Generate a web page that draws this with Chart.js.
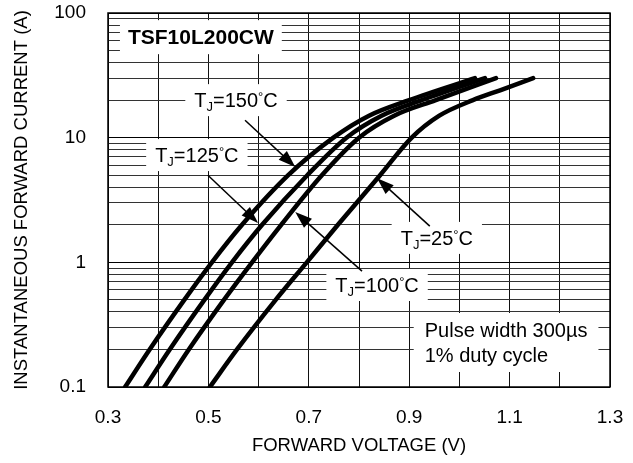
<!DOCTYPE html>
<html lang="en">
<head>
<meta charset="UTF-8">
<title>TSF10L200CW Forward Characteristics</title>
<script src="https://cdn.jsdelivr.net/npm/chart.js"></script>
<style>
  body { margin: 0; background: #fff; }
  .wrap { width: 633px; height: 463px; }
</style>
</head>
<body>
<div class="wrap"><canvas id="fwdChart" width="633" height="463"></canvas></div>
<script>
// axis ticks
const xTickLabels = ['0.3', '0.5', '0.7', '0.9', '1.1', '1.3'];
const yTickLabels = ['0.1', '1', '10', '100'];

// forward voltage (V) / current (A)
const v150 = [0.334, 0.383, 0.452, 0.507, 0.567, 0.659, 0.749, 0.820, 0.900, 1.031];
const i150 = [0.1, 0.2, 0.5, 1, 2, 5, 10, 15, 20, 30];
const v125 = [0.374, 0.423, 0.492, 0.547, 0.607, 0.697, 0.775, 0.845, 0.925, 1.051];
const i125 = [0.1, 0.2, 0.5, 1, 2, 5, 10, 15, 20, 30];
const v100 = [0.412, 0.461, 0.531, 0.587, 0.645, 0.726, 0.800, 0.870, 0.953, 1.073];
const i100 = [0.1, 0.2, 0.5, 1, 2, 5, 10, 15, 20, 30];
const v25 = [0.503, 0.557, 0.634, 0.696, 0.758, 0.842, 0.905, 0.960, 1.027, 1.081, 1.147];
const i25 = [0.1, 0.2, 0.5, 1, 2, 5, 10, 15, 20, 24, 30];

// temperature call-outs: label centre, arrow start, arrow tip (data units)
const tempNames = ['150', '125', '100', '25'];
const tagX = [0.555, 0.477, 0.836, 0.955];
const tagY = [20, 7.25, 0.658, 1.57];
const arrowFromX = [0.573, 0.499, 0.806, 0.941];
const arrowFromY = [13.8, 5.0, 0.851, 1.95];
const arrowToX = [0.673, 0.599, 0.673, 0.836];
const arrowToY = [5.83, 2.07, 2.53, 4.73];

const partNo = 'TSF10L200CW';
const noteLines = ['Pulse width 300\u00b5s', '1% duty cycle'];

const FONT = '"Liberation Sans", Arial, sans-serif';

function pts(vs, is) {
  return vs.map((v, k) => ({ x: v, y: is[k] }));
}

function curve(vs, is) {
  return {
    data: pts(vs, is),
    borderColor: '#000',
    borderWidth: 4.5,
    borderCapStyle: 'round',
    borderJoinStyle: 'round',
    pointRadius: 0,
    cubicInterpolationMode: 'monotone',
    clip: 0
  };
}

// white box with text, parts = [{s, size, dy, bold}]
function tag(ctx, parts, cx, cy, padX, h) {
  let w = 0;
  parts.forEach(p => {
    ctx.font = (p.bold ? 'bold ' : '') + p.size + 'px ' + FONT;
    p.w = ctx.measureText(p.s).width;
    w += p.w;
  });
  ctx.fillStyle = '#fff';
  ctx.fillRect(cx - w / 2 - padX, cy - h / 2, w + padX * 2, h);
  ctx.fillStyle = '#000';
  ctx.textBaseline = 'alphabetic';
  ctx.textAlign = 'left';
  let x = cx - w / 2;
  const base = cy + 7.2;
  parts.forEach(p => {
    ctx.font = (p.bold ? 'bold ' : '') + p.size + 'px ' + FONT;
    ctx.fillText(p.s, x, base + (p.dy || 0));
    x += p.w;
  });
}

function arrow(ctx, x0, y0, x1, y1) {
  const a = Math.atan2(y1 - y0, x1 - x0);
  const L = 17, W = 6;
  ctx.strokeStyle = '#000';
  ctx.lineWidth = 1.5;
  ctx.beginPath();
  ctx.moveTo(x0, y0);
  ctx.lineTo(x1 - Math.cos(a) * L * 0.8, y1 - Math.sin(a) * L * 0.8);
  ctx.stroke();
  ctx.fillStyle = '#000';
  ctx.beginPath();
  ctx.moveTo(x1, y1);
  ctx.lineTo(x1 - Math.cos(a) * L - Math.sin(a) * W, y1 - Math.sin(a) * L + Math.cos(a) * W);
  ctx.lineTo(x1 - Math.cos(a) * L + Math.sin(a) * W, y1 - Math.sin(a) * L - Math.cos(a) * W);
  ctx.closePath();
  ctx.fill();
}

const notes = {
  id: 'notes',
  afterDatasetsDraw(chart) {
    const ctx = chart.ctx;
    const xs = chart.scales.x, ys = chart.scales.y;
    const a = chart.chartArea;
    ctx.save();

    // frame
    ctx.strokeStyle = '#000';
    ctx.lineWidth = 1.5;
    ctx.strokeRect(a.left, a.top, a.right - a.left, a.bottom - a.top);

    // part number
    tag(ctx, [{ s: partNo, size: 21, bold: true }], xs.getPixelForValue(0.485), ys.getPixelForValue(64), 8, 34);

    // temperature labels + arrows
    tempNames.forEach((t, k) => {
      const parts = [
        { s: 'T', size: 20 },
        { s: 'J', size: 13, dy: 4 },
        { s: '=' + t, size: 20 },
        { s: '\u00b0', size: 13, dy: -6 },
        { s: 'C', size: 20 }
      ];
      tag(ctx, parts, xs.getPixelForValue(tagX[k]), ys.getPixelForValue(tagY[k]), 9, 32);
      arrow(ctx, xs.getPixelForValue(arrowFromX[k]), ys.getPixelForValue(arrowFromY[k]),
            xs.getPixelForValue(arrowToX[k]), ys.getPixelForValue(arrowToY[k]));
    });

    // pulse note
    ctx.font = '20px ' + FONT;
    const wMax = Math.max(...noteLines.map(s => ctx.measureText(s).width));
    const cx = xs.getPixelForValue(1.093), cy = ys.getPixelForValue(0.2275);
    ctx.fillStyle = '#fff';
    ctx.fillRect(cx - wMax / 2 - 11, cy - 29.5, wMax + 22, 59);
    ctx.fillStyle = '#000';
    ctx.textAlign = 'left';
    ctx.textBaseline = 'alphabetic';
    noteLines.forEach((s, k) => ctx.fillText(s, cx - wMax / 2, cy - 12.5 + 25 * k + 7.2));

    ctx.restore();
  }
};

const yGrid = [];
[0.1, 1, 10].forEach(d => { for (let m = 1; m < 10; m++) yGrid.push(+(d * m).toPrecision(3)); });
yGrid.push(100);

new Chart(document.getElementById('fwdChart'), {
  type: 'line',
  data: {
    datasets: [curve(v150, i150), curve(v125, i125), curve(v100, i100), curve(v25, i25)]
  },
  options: {
    responsive: false,
    animation: false,
    devicePixelRatio: 1,
    layout: { padding: { left: 0, right: 23, top: 13, bottom: 0 } },
    plugins: { legend: { display: false }, tooltip: { enabled: false } },
    scales: {
      x: {
        type: 'linear',
        min: 0.3,
        max: 1.3,
        ticks: {
          stepSize: 0.1,
          autoSkip: false,
          maxRotation: 0,
          padding: 19,
          color: '#000',
          font: { family: FONT, size: 19 },
          callback: v => {
            const s = (Math.round(v * 10) / 10).toFixed(1);
            return xTickLabels.includes(s) ? s : '';
          }
        },
        grid: { color: '#111', lineWidth: 1, drawTicks: false },
        border: { display: false },
        title: {
          display: true,
          text: 'FORWARD VOLTAGE (V)',
          color: '#000',
          font: { family: FONT, size: 18.5, lineHeight: 1.2 },
          padding: { top: 0, bottom: 6 }
        },
        afterFit: s => { s.height = 76; s.paddingLeft = 0; s.paddingRight = 0; }
      },
      y: {
        type: 'logarithmic',
        min: 0.1,
        max: 100,
        afterBuildTicks: s => { s.ticks = yGrid.map(v => ({ value: v })); },
        ticks: {
          autoSkip: false,
          padding: 22,
          color: '#000',
          font: { family: FONT, size: 19 },
          callback: v => {
            const s = String(+v.toPrecision(3));
            return yTickLabels.includes(s) ? s : '';
          }
        },
        grid: {
          color: c => (yTickLabels.includes(String(+c.tick.value.toPrecision(3))) ? '#000' : '#333'),
          lineWidth: 1,
          drawTicks: false
        },
        border: { display: false },
        title: {
          display: true,
          text: 'INSTANTANEOUS FORWARD CURRENT (A)',
          color: '#000',
          font: { family: FONT, size: 18.5, lineHeight: 1.2 },
          padding: { top: 11, bottom: 0 }
        },
        afterFit: s => { s.width = 108; s.paddingTop = 0; s.paddingBottom = 0; }
      }
    }
  },
  plugins: [notes]
});
</script>
</body>
</html>
